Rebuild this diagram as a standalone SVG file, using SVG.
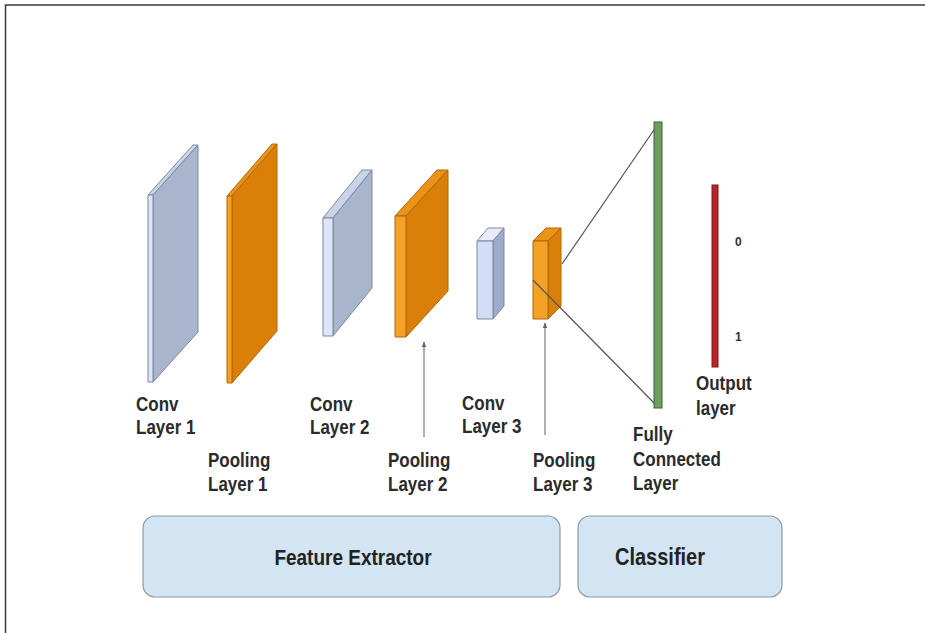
<svg xmlns="http://www.w3.org/2000/svg" width="925" height="633" viewBox="0 0 925 633">
  <style>
    .lbl { font-family: "Liberation Sans", Arial, sans-serif; font-weight: bold; font-size: 17px; fill: #2b2b2b; }
    .big { font-family: "Liberation Sans", Arial, sans-serif; font-weight: bold; font-size: 19px; fill: #222; }
    .num { font-family: "Liberation Sans", Arial, sans-serif; font-weight: bold; font-size: 12px; fill: #333; }
    .convF { fill: #dde5f6; stroke: #7d889f; stroke-width: 1; stroke-linejoin: round; }
    .convS { fill: #a9b4cd; stroke: #7d889f; stroke-width: 1; stroke-linejoin: round; }
    .convT { fill: #c9d3ea; stroke: #7d889f; stroke-width: 1; stroke-linejoin: round; }
    .poolF { fill: #f3a127; stroke: #b06806; stroke-width: 1; stroke-linejoin: round; }
    .poolS { fill: #da8008; stroke: #b06806; stroke-width: 1; stroke-linejoin: round; }
    .poolT { fill: #eb9218; stroke: #b06806; stroke-width: 1; stroke-linejoin: round; }
    .box { fill: #d3e4f3; stroke: #8c9aa6; stroke-width: 1.2; }
    .wire { stroke: #555; stroke-width: 1.2; fill: none; }
    .ptr { stroke: #7a7a7a; stroke-width: 1.2; fill: none; marker-end: url(#tip); }
  </style>
  <defs>
    <marker id="tip" viewBox="0 0 10 10" refX="9" refY="5" markerWidth="5" markerHeight="5" orient="auto">
      <path d="M0,1 L10,5 L0,9 z" fill="#666"/>
    </marker>
  </defs>

  <rect width="925" height="633" fill="#fff"/>
  <!-- frame edges -->
  <path d="M925,5 H5.5 V633" fill="none" stroke="#3a3a3a" stroke-width="1.5"/>

  <!-- layer slabs: front face, top face, side face -->
  <g id="conv1">
    <polygon class="convT" points="148,195 153,195 198,145 193,145"/>
    <polygon class="convS" points="153,195 198,145 198,332 153,382"/>
    <rect class="convF" x="148" y="195" width="5" height="187"/>
  </g>
  <g id="pool1">
    <polygon class="poolT" points="227,196 232,196 277,144 272,144"/>
    <polygon class="poolS" points="232,196 277,144 277,331 232,383"/>
    <rect class="poolF" x="227" y="196" width="5" height="187"/>
  </g>
  <g id="conv2">
    <polygon class="convT" points="323,218 333,218 372,170 362,170"/>
    <polygon class="convS" points="333,218 372,170 372,288 333,336"/>
    <rect class="convF" x="323" y="218" width="10" height="118"/>
  </g>
  <g id="pool2">
    <polygon class="poolT" points="395,216 406,216 448,170 437,170"/>
    <polygon class="poolS" points="406,216 448,170 448,291 406,337"/>
    <rect class="poolF" x="395" y="216" width="11" height="121"/>
  </g>
  <g id="conv3">
    <polygon class="convT" points="477,241 493,241 504,228 488,228" style="fill:#e6ecfa"/>
    <polygon class="convS" points="493,241 504,228 504,306 493,319" style="fill:#9eabcf"/>
    <rect class="convF" x="477" y="241" width="16" height="78" style="fill:#d3def6"/>
  </g>
  <g id="pool3">
    <polygon class="poolT" points="533,241 548,241 561,228 546,228"/>
    <polygon class="poolS" points="548,241 561,228 561,306 548,319"/>
    <rect class="poolF" x="533" y="241" width="15" height="78"/>
  </g>

  <g id="connectors">
    <line class="wire" x1="658" y1="124" x2="562" y2="264"/>
    <line class="wire" x1="533" y1="280" x2="658" y2="407"/>
    <line class="ptr" x1="424" y1="437" x2="424" y2="342"/>
    <line class="ptr" x1="545" y1="435" x2="545" y2="323"/>
  </g>

  <g id="fc">
    <rect x="654" y="122" width="8" height="286" fill="#6c9f5e" stroke="#3f5f3a" stroke-width="1"/>
  </g>
  <g id="output">
    <rect x="712" y="185" width="6" height="182" fill="#b8262b" stroke="#7a1a1a" stroke-width="1"/>
    <text class="num" x="735" y="246">0</text>
    <text class="num" x="735" y="341">1</text>
  </g>

  <!-- labels, drawn slightly tall -->
  <g id="labels">
    <text class="lbl" transform="translate(136,411) scale(1,1.2)"><tspan x="0" y="0">Conv</tspan><tspan x="0" y="19">Layer 1</tspan></text>
    <text class="lbl" transform="translate(208,467) scale(1,1.2)"><tspan x="0" y="0">Pooling</tspan><tspan x="0" y="20">Layer 1</tspan></text>
    <text class="lbl" transform="translate(310,411) scale(1,1.2)"><tspan x="0" y="0">Conv</tspan><tspan x="0" y="19">Layer 2</tspan></text>
    <text class="lbl" transform="translate(388,467) scale(1,1.2)"><tspan x="0" y="0">Pooling</tspan><tspan x="0" y="20">Layer 2</tspan></text>
    <text class="lbl" transform="translate(462,410) scale(1,1.2)"><tspan x="0" y="0">Conv</tspan><tspan x="0" y="19">Layer 3</tspan></text>
    <text class="lbl" transform="translate(533,467) scale(1,1.2)"><tspan x="0" y="0">Pooling</tspan><tspan x="0" y="20">Layer 3</tspan></text>
    <text class="lbl" transform="translate(633,441) scale(1,1.2)"><tspan x="0" y="0">Fully</tspan><tspan x="0" y="20.5">Connected</tspan><tspan x="0" y="41">Layer</tspan></text>
    <text class="lbl" transform="translate(696,390) scale(1,1.2)"><tspan x="0" y="0">Output</tspan><tspan x="0" y="20.5">layer</tspan></text>
  </g>

  <g id="feature-extractor">
    <rect class="box" x="143" y="516" width="417" height="81" rx="12"/>
    <text class="big" text-anchor="middle" transform="translate(353,565) scale(1,1.2)">Feature Extractor</text>
  </g>
  <g id="classifier">
    <rect class="box" x="578" y="516" width="204" height="81" rx="12"/>
    <text class="big" text-anchor="middle" transform="translate(660,565) scale(1,1.2)" style="font-size:20px">Classifier</text>
  </g>
</svg>
